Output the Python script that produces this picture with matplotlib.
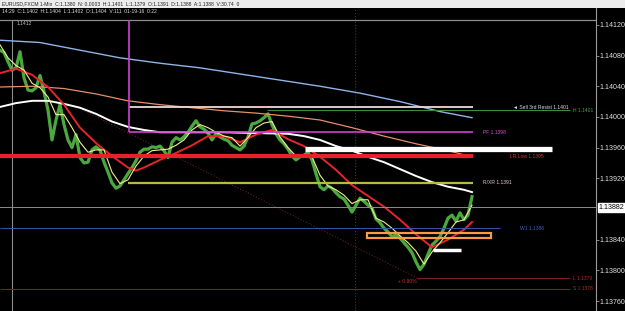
"""MT4-style 1-minute EURUSD screenshot: price, moving averages and pivot levels."""
import matplotlib

matplotlib.use("Agg")
import matplotlib.pyplot as plt
from matplotlib.patches import Rectangle

plt.rcParams["font.family"] = ["Liberation Sans", "DejaVu Sans"]

# close per bar (bar index = x position in the chart)
close = [
    1.14087, 1.14084, 1.14072, 1.14061, 1.14064, 1.14085, 1.14051, 1.14035, 1.14034, 1.14038,
    1.14054, 1.14033, 1.14009, 1.13970, 1.13996, 1.14016, 1.13990, 1.13970, 1.13960, 1.13977,
    1.13947, 1.13940, 1.13941, 1.13957, 1.13961, 1.13957, 1.13941, 1.13928, 1.13914, 1.13907,
    1.13910, 1.13918, 1.13926, 1.13934, 1.13943, 1.13954, 1.13958, 1.13958, 1.13961, 1.13960,
    1.13962, 1.13956, 1.13947, 1.13967, 1.13973, 1.13970, 1.13974, 1.13980, 1.13988, 1.13995,
    1.13987, 1.13984, 1.13979, 1.13970, 1.13978, 1.13974, 1.13971, 1.13969, 1.13963, 1.13960,
    1.13957, 1.13962, 1.13974, 1.13991, 1.13992, 1.13995, 1.13999, 1.14004, 1.13990, 1.13978,
    1.13970, 1.13965, 1.13958, 1.13949, 1.13944, 1.13948, 1.13950, 1.13954, 1.13944, 1.13926,
    1.13909, 1.13905, 1.13910, 1.13907, 1.13901, 1.13896, 1.13893, 1.13885, 1.13876, 1.13885,
    1.13894, 1.13890, 1.13885, 1.13881, 1.13867, 1.13862, 1.13855, 1.13850, 1.13844, 1.13846,
    1.13842, 1.13836, 1.13830, 1.13823, 1.13811, 1.13801, 1.13808, 1.13821, 1.13833, 1.13838,
    1.13844, 1.13855, 1.13868, 1.13872, 1.13864, 1.13875, 1.13866, 1.13872, 1.13896,
]

# fast MA (yellow), every second bar
yellow_bars = list(range(0, 119, 2))
yellow = [
    1.14094, 1.14077, 1.14067, 1.14061, 1.14044, 1.14038, 1.14026, 1.14003, 1.14003, 1.13986,
    1.13967, 1.13954, 1.13957, 1.13957, 1.13928, 1.13913, 1.13918, 1.13936, 1.13949, 1.13956,
    1.13957, 1.13958, 1.13963, 1.13970, 1.13983, 1.13990, 1.13986, 1.13980, 1.13975, 1.13973,
    1.13962, 1.13973, 1.13986, 1.13992, 1.13994, 1.13974, 1.13960, 1.13949, 1.13949, 1.13948,
    1.13924, 1.13910, 1.13905, 1.13898, 1.13887, 1.13892, 1.13892, 1.13868, 1.13863, 1.13855,
    1.13845, 1.13836, 1.13825, 1.13808, 1.13824, 1.13836, 1.13849, 1.13863, 1.13866, 1.13885,
]

red_bars = [0, 4, 8, 12, 16, 20, 24, 28, 32, 34, 36, 40, 44, 48, 52, 56,
            60, 64, 68, 72, 76, 80, 84, 88, 92, 96, 100, 104, 108, 112, 116, 118]
red_ma = [1.14057, 1.14063, 1.14055, 1.14039, 1.14016, 1.13986, 1.13966, 1.13949,
          1.13934, 1.13930, 1.13934, 1.13944, 1.13953, 1.13963, 1.13975, 1.13975,
          1.13967, 1.13977, 1.13983, 1.13971, 1.13962, 1.13948, 1.13931, 1.13911,
          1.13897, 1.13883, 1.13866, 1.13847, 1.13830, 1.13840, 1.13853, 1.13863]

white_bars = [0, 4, 8, 12, 16, 20, 24, 28, 32, 36, 40, 48, 56, 64, 72, 76,
              80, 84, 88, 92, 96, 100, 104, 108, 112, 116, 118]
white_ma = [1.14013, 1.14018, 1.14021, 1.14021, 1.14017, 1.14012, 1.14004, 1.13994,
            1.13987, 1.13983, 1.13980, 1.13980, 1.13980, 1.13979, 1.13978, 1.13975,
            1.13970, 1.13962, 1.13956, 1.13948, 1.13941, 1.13932, 1.13923, 1.13915,
            1.13909, 1.13905, 1.13902]

orange_bars = [0, 8, 16, 24, 32, 40, 48, 56, 64, 72, 80, 88, 96, 104, 112, 118]
orange_ma = [1.14039, 1.14040, 1.14037, 1.14030, 1.14021, 1.14016, 1.14012, 1.14008,
             1.14005, 1.14001, 1.13996, 1.13986, 1.13975, 1.13965, 1.13956, 1.13948]

blue_bars = [0, 10, 20, 30, 40, 50, 60, 70, 80, 90, 100, 110, 118]
blue_ma = [1.14100, 1.14097, 1.14087, 1.14077, 1.14070, 1.14064, 1.14056, 1.14048,
           1.14040, 1.14031, 1.14020, 1.14007, 1.13999]

# horizontal levels
top_line = 1.14126
resist3 = 1.14013
day_high = 1.14009
pivot = 1.13980
white_zone = 1.13958
lr_low = 1.13949
rxr = 1.13914
last_price = 1.13882
w1 = 1.13855
box_lo, box_hi = 1.13842, 1.13849
white_small = 1.13827
day_low = 1.13790
support = 1.13776
trend_from, trend_to = 1.14013, 1.13788

yticks = [1.14120, 1.14080, 1.14040, 1.14000, 1.13960, 1.13920, 1.13840, 1.13800, 1.13760]

header = ("EURUSD,FXCM 1-Min  C:1.1380  N: 0.0003  H:1.1401  L:1.1379  O:1.1391  "
          "D:1.1388  A:1.1388  V:30.74  0")
bar_info = "14:29  C:1.1402  H:1.1404  L:1.1402  O:1.1404  V:111  01-19-16  0:22"

fig = plt.figure(figsize=(6.25, 3.11), dpi=100, facecolor="black")
ax = fig.add_axes([0, 0, 596 / 625, 303 / 311])
ax.set_facecolor("black")
ax.set_xlim(0, 149)
ax.set_ylim(1.13747, 1.14142)

# window title strip
fig.patches.append(Rectangle((0, 303 / 311), 1, 8 / 311, transform=fig.transFigure,
                             facecolor="#ececec", edgecolor="none"))
fig.text(0.004, 1 - 3.5 / 311, header, fontsize=3.6, color="#222222", va="center")
ax.text(0.004, 0.99, bar_info, transform=ax.transAxes, fontsize=3.6, color="#dddddd",
        va="center")

bars = list(range(len(close)))

# guides
ax.axhline(top_line, color="#8c8c8c", lw=0.9, zorder=1)
ax.vlines(3, 1.13747, top_line, color="#8c8c8c", lw=0.8, zorder=1)
ax.axvline(88.75, color="#6a2424", lw=0.8, ls=":", zorder=1)
ax.plot([19.25, 105], [trend_from, trend_to], color="#5e1e1e", lw=0.8, ls=":", zorder=1)
ax.text(4.2, top_line - 0.00004, "1.1412", fontsize=3.6, color="#bbbbbb", va="center")

# price and moving averages
ax.plot(bars, close, color="#4aa83e", lw=2.3, zorder=2)
ax.plot(blue_bars, blue_ma, color="#8fb4e8", lw=1.0, zorder=3)
ax.plot(orange_bars, orange_ma, color="#e3906a", lw=0.9, zorder=3)
ax.plot(white_bars, white_ma, color="white", lw=1.4, zorder=3)
ax.plot(red_bars, red_ma, color="#e8242a", lw=1.4, zorder=3)
ax.plot(yellow_bars, yellow, color="#f2ee8a", lw=0.8, zorder=3)

# levels
ax.hlines(resist3, 32.25, 118.25, color="#f3d6d6", lw=1.3, zorder=4)
ax.hlines(day_high, 66.75, 142.5, color="#3f8a3f", lw=0.8, zorder=4)
ax.hlines(pivot, 32.25, 118.25, color="#d040d0", lw=1.2, zorder=4)
ax.vlines(32.25, pivot, top_line, color="#d040d0", lw=1.2, zorder=4)
ax.hlines(white_zone, 76.25, 138, color="white", lw=3.8, zorder=4)
ax.hlines(lr_low, 0, 118.25, color="#e8202a", lw=3.0, zorder=4)
ax.hlines(rxr, 32, 118.25, color="#b8b84a", lw=1.6, zorder=4)
ax.axhline(last_price, color="#8c8c8c", lw=0.7, zorder=4)
ax.hlines(w1, 0, 125, color="#3a55a8", lw=0.7, zorder=4)
ax.add_patch(Rectangle((91.75, box_lo), 31, box_hi - box_lo, fill=False,
                       edgecolor="#ff9a40", lw=1.6, zorder=5))
ax.hlines(white_small, 108.25, 115.25, color="white", lw=2.5, zorder=5)
ax.hlines(day_low, 104.25, 142.5, color="#7a2020", lw=0.8, zorder=4)
ax.hlines(support, 0, 142.5, color="#7a2020", lw=0.8, zorder=4)

lab = dict(fontsize=3.6, va="center", zorder=6)
ax.text(128.3, resist3, "\u25c4 Sell 3rd Resist 1.1401", color="#dddddd", **lab)
ax.text(143.3, day_high, "H 1.1401", color="#4f9a4f", **lab)
ax.text(120.8, pivot, "PF 1.1398", color="#d050d0", **lab)
ax.text(127.5, lr_low - 0.00001, "LR Low 1.1395", color="#e03030", **lab)
ax.text(120.8, rxr, "R/XR 1.1391", color="#e0c8c8", **lab)
ax.text(130, w1, "W1 1.1386", color="#4060c0", **lab)
ax.text(143.3, day_low, "L 1.1379", color="#a03030", **lab)
ax.text(143.3, support, "S 1.1378", color="#a03030", **lab)
ax.text(99.5, day_low - 0.00005, "+ 0.90%", color="#c03030", **lab)

# right price scale
for side in ("left", "top", "bottom"):
    ax.spines[side].set_visible(False)
ax.spines["right"].set_color("#9a9a9a")
ax.spines["right"].set_linewidth(0.8)
ax.set_xticks([])
ax.yaxis.tick_right()
ax.set_yticks(yticks)
ax.set_yticklabels([f"{t:.5f}" for t in yticks])
ax.tick_params(axis="y", colors="#9a9a9a", labelcolor="#e0e0e0", labelsize=5.1,
               length=2, width=0.6, pad=0.8)
ax.text(1.004, last_price, f"{last_price:.5f}", transform=ax.get_yaxis_transform(),
        fontsize=5.1, color="black", va="center", ha="left",
        bbox=dict(boxstyle="square,pad=0.1", facecolor="white", edgecolor="white"))

fig.savefig("out.png", dpi=100, facecolor="black")
